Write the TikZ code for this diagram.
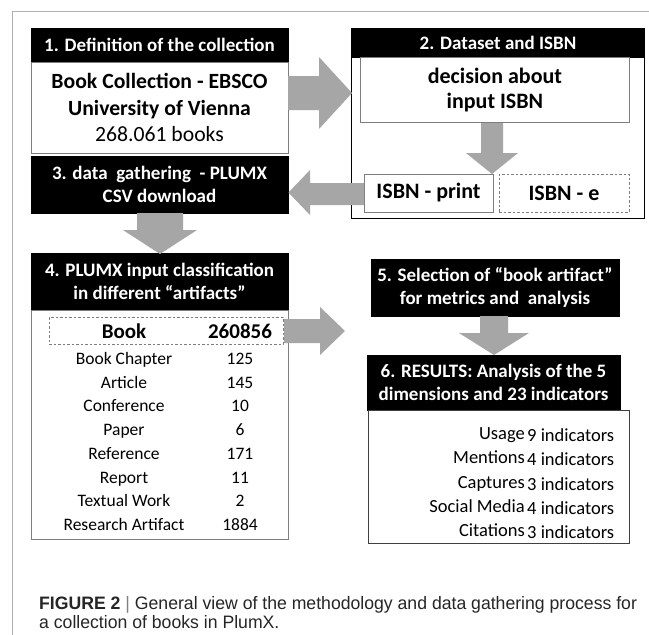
\documentclass[tikz,border=0pt]{standalone}
\usepackage{fontspec}
\usepackage{graphicx}
\setmainfont{Carlito}
\newfontfamily\capfont[FakeStretch=0.98]{Liberation Sans}
\definecolor{arrowgray}{RGB}{166,166,166}
\definecolor{framegray}{RGB}{175,175,175}
\definecolor{boxgray}{RGB}{125,125,125}
\tikzset{
  hdr/.style={fill=black, draw=black, text=white, font=\bfseries\fontsize{19}{23}\selectfont, align=center, inner sep=0pt},
  bodybox/.style={draw=boxgray, fill=white, line width=0.8pt, inner sep=0pt, align=center},
  dashbox/.style={draw=boxgray, dashed, dash pattern=on 2.5pt off 2pt, line width=0.8pt, inner sep=0pt, align=center},
  blockarrow/.style={fill=arrowgray, draw=none},
  rowtext/.style={font=\fontsize{17.5}{20}\selectfont, inner sep=0pt, anchor=base},
  restext/.style={font=\fontsize{18.5}{21}\selectfont, inner sep=0pt},
  bigtext/.style={font=\fontsize{21.7}{26.5}\selectfont},
  midtext/.style={font=\fontsize{22}{25}\selectfont},
}
\begin{document}
\begin{tikzpicture}[x=1pt,y=-1pt]
\useasboundingbox (0,0) rectangle (649,635);
\fill[white] (0,0) rectangle (649,635);
\draw[framegray, line width=1pt] (12,635) -- (12,11) -- (649,11);

% Box 1
\node[hdr, minimum width=257pt, minimum height=33pt] (h1) at (159.5,45) {1. Definition of the collection};
\node[bodybox, bigtext, minimum width=257pt, minimum height=91pt, anchor=north] (b1) at (h1.south)
  {\textbf{Book Collection - EBSCO}\\\textbf{University of Vienna}\\268.061 books};

% Box 2
\node[draw=black, line width=1pt, fill=white, minimum width=293pt, minimum height=190pt, anchor=north west, inner sep=0pt] (o2) at (351,28) {};
\node[hdr, minimum width=293pt, minimum height=29pt, anchor=north] (h2) at (o2.north) {2. Dataset and ISBN};
\node[bodybox, midtext, minimum width=269pt, minimum height=65pt, anchor=north west] (dec) at (360,57)
  {\textbf{decision about}\\\textbf{input ISBN}};
\node[bodybox, midtext, minimum width=129pt, minimum height=38pt] (ip) at (428.5,193) {\textbf{ISBN - print}};
\node[dashbox, midtext, minimum width=130pt, minimum height=38pt] (ie) at (564,193) {\textbf{ISBN - e}};

% Box 3
\node[hdr, minimum width=257pt, minimum height=57pt] (h3) at (159.5,184.5) {3. data\ \ gathering\ \ - PLUMX\\CSV download};

% Box 4
\node[hdr, minimum width=257pt, minimum height=57pt] (h4) at (159.5,281.5) {4. PLUMX input classification\\in different “artifacts”};
\node[bodybox, minimum width=257pt, minimum height=229pt, anchor=north] (b4) at (h4.south) {};
\node[dashbox, minimum width=234pt, minimum height=27pt] (bk) at (166,330.5) {};
\node[font=\bfseries\fontsize{21}{24}\selectfont, inner sep=0pt, anchor=base] (bkl) at (124,338.5) {Book};
\node[font=\bfseries\fontsize{21}{24}\selectfont, inner sep=0pt, anchor=base] (bkn) at (240,338.5) {260856};
\foreach \lab/\num/\yy [count=\i] in {Book Chapter/125/358, Article/145/382, Conference/10/405, Paper/6/429, Reference/171/453, Report/11/477, Textual Work/2/500, Research Artifact/1884/524}{
  \node[rowtext] (r\i) at (124,\yy+6) {\lab};
  \node[rowtext] (n\i) at (240,\yy+6) {\num};
}

% Box 5
\node[hdr, minimum width=248pt, minimum height=57pt] (h5) at (495,287.5) {5. Selection of “book artifact”\\for metrics and\ \ analysis};

% Box 6
\node[hdr, minimum width=253pt, minimum height=55pt] (h6) at (493.5,382.5) {6. RESULTS:\ Analysis of the 5\\dimensions and 23 indicators};
\node[draw=black!75, line width=0.8pt, fill=white, minimum width=261pt, minimum height=133pt, anchor=north west, inner sep=0pt] (b6) at (368,410) {};
\foreach \lab/\num/\yy [count=\i] in {Usage/9/437, Mentions/4/461, Captures/3/486, Social Media/4/510, Citations/3/534}{
  \node[restext, anchor=mid east] (u\i) at (525,\yy) {\lab};
  \node[restext, anchor=mid west] (v\i) at (527,\yy+2) {\num\ indicators};
}

% Block arrows
\fill[blockarrow] (288,76) -- (319,76) -- (319,57) -- (352,93) -- (319,129) -- (319,110) -- (288,110) -- cycle;
\fill[blockarrow] (481,123) -- (503,123) -- (503,153) -- (518,153) -- (492,174) -- (466,153) -- (481,153) -- cycle;
\fill[blockarrow] (364,183) -- (310,183) -- (310,170) -- (288.5,192.5) -- (310,215) -- (310,205) -- (364,205) -- cycle;
\fill[blockarrow] (137,213) -- (183,213) -- (183,230) -- (197,230) -- (160,254) -- (123,230) -- (137,230) -- cycle;
\fill[blockarrow] (284,319) -- (320,319) -- (320,307) -- (345,331) -- (320,355) -- (320,343) -- (284,343) -- cycle;
\fill[blockarrow] (480,316) -- (508,316) -- (508,333) -- (529,333) -- (494,355) -- (459,333) -- (480,333) -- cycle;

% Caption
\node[anchor=base west, inner sep=0pt, font=\capfont\fontsize{18}{21}\selectfont, text=black!85] (cap1) at (39,609)
  {\textbf{FIGURE 2} {\color{black!50}|} General view of the methodology and data gathering process for};
\node[anchor=base west, inner sep=0pt, font=\capfont\fontsize{18}{21}\selectfont, text=black!85] (cap2) at (39,628.5)
  {a collection of books in PlumX.};
\end{tikzpicture}
\end{document}
